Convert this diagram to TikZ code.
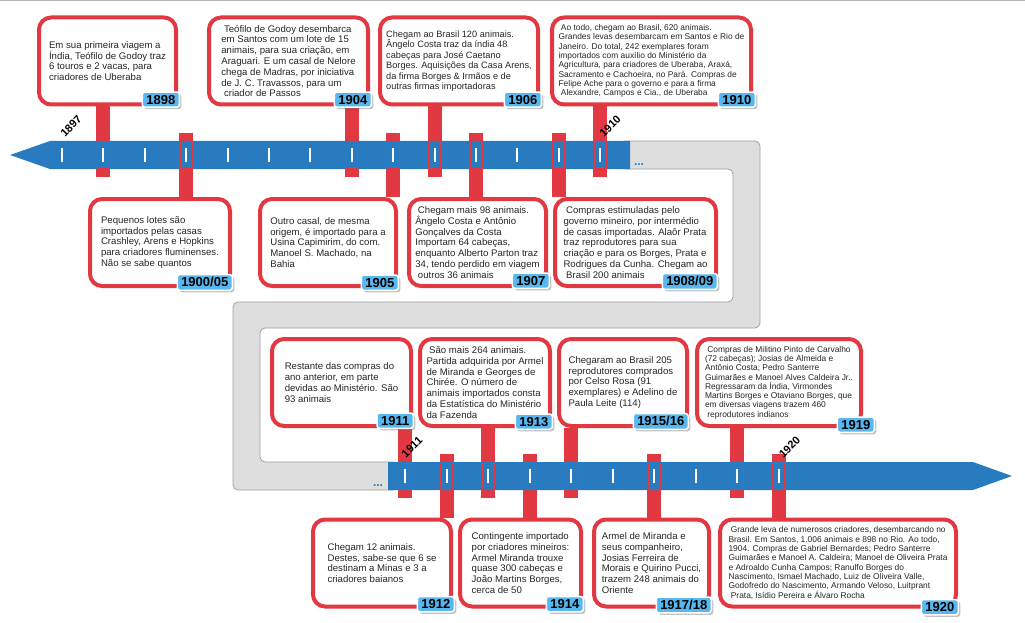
\documentclass[tikz,border=0pt]{standalone}
\usepackage{fontspec}
\setmainfont{Liberation Sans}
\usetikzlibrary{positioning,calc,shadows,backgrounds}

\definecolor{barblue}{RGB}{41,123,191}
\definecolor{evred}{RGB}{226,56,66}
\definecolor{yrblue}{RGB}{88,183,238}
\definecolor{bandgray}{RGB}{222,222,222}
\definecolor{bandline}{RGB}{160,160,160}

\begin{document}
\begin{tikzpicture}[
  x=1pt,y=-1pt,
  font=\fontsize{9.6}{10.8}\selectfont,
  event/.style={draw=evred,line width=4pt,rounded corners=12pt,fill=white,align=left,
    minimum height=87pt,inner xsep=5pt,inner ysep=2pt,text=black!85},
  dense/.style={event,font=\fontsize{8.4}{9.3}\selectfont},
  yearbox/.style={fill=yrblue,draw=white,line width=1.5pt,rounded corners=2.5pt,
    font=\fontsize{13}{13}\selectfont\bfseries,inner xsep=4pt,inner ysep=3pt,anchor=south east,
    drop shadow={shadow xshift=2pt,shadow yshift=-2pt,opacity=.4,fill=black!60}},
  yearmark/.style={rotate=45,font=\fontsize{11}{11}\selectfont\bfseries,inner sep=0pt},
  post/.style={draw=evred,line width=14pt},
  win/.style={draw=evred,line width=1pt},
  notch/.style={draw=white,line width=2pt},
  dots/.style={text=barblue,font=\fontsize{12}{12}\selectfont\bfseries,inner sep=0pt}
]
\useasboundingbox (0,0) rectangle (1025,623);
\draw[black!30,line width=1pt] (0,1) -- (1025,1);

% tick positions on the two bars
\foreach \k in {0,...,13} \coordinate (top\k) at ({62+41.4*\k},155);
\foreach \k in {0,...,9} \coordinate (low\k) at ({405+41.5*\k},476);

% 1897-1910, above the bar
\node[event,minimum width=137pt] (b1898) at (107.5,61) {Em sua primeira viagem a\\Índia, Teófilo de Godoy traz\\6 touros e 2 vacas, para\\criadores de Uberaba};
\node[event,minimum width=159pt,right=29pt of b1898] (b1904) {\ Teófilo de Godoy desembarca\\em Santos com um lote de 15\\animais, para sua criação, em\\Araguari. E um casal de Nelore\\chega de Madras, por iniciativa\\de J. C. Travassos, para um\\\ criador de Passos};
\node[event,minimum width=158pt,right=8pt of b1904,font=\fontsize{9.2}{10.5}\selectfont] (b1906) {Chegam ao Brasil 120 animais.\\Ângelo Costa traz da índia 48\\cabeças para José Caetano\\Borges. Aquisições da Casa Arens,\\da firma Borges \& Irmãos e de\\outras firmas importadoras};
\node[dense,minimum width=199pt,right=10pt of b1906] (b1910) {\ Ao todo, chegam ao Brasil, 620 animais.\\Grandes levas desembarcam em Santos e Rio de\\Janeiro. Do total, 242 exemplares foram\\importados com auxílio do Ministério da\\Agricultura, para criadores de Uberaba, Araxá,\\Sacramento e Cachoeira, no Pará. Compras de\\Felipe Ache para o governo e para a firma\\\ Alexandre, Campos e Cia., de Uberaba};

% 1897-1910, below the bar
\node[event,minimum width=140pt] (b1900) at (160,242.5) {Pequenos lotes são\\importados pelas casas\\Crashley, Arens e Hopkins\\para criadores fluminenses.\\Não se sabe quantos};
\node[event,minimum width=136pt,right=26pt of b1900] (b1905) {Outro casal, de mesma\\origem, é importado para a\\Usina Capimirim, do com.\\Manoel S. Machado, na\\Bahia};
\node[event,minimum width=137pt,right=9pt of b1905] (b1907) {\ Chegam mais 98 animais.\\Ângelo Costa e Antônio\\Gonçalves da Costa\\Importam 64 cabeças,\\enquanto Alberto Parton traz\\34, tendo perdido em viagem\\\ outros 36 animais};
\node[event,minimum width=161pt,right=5pt of b1907] (b1908) {\ Compras estimuladas pelo\\governo mineiro, por intermédio\\de casas importadas. Alaôr Prata\\traz reprodutores para sua\\criação e para os Borges, Prata e\\Rodrigues da Cunha. Chegam ao\\\ Brasil 200 animais};

% 1911-1920, above the bar
\node[event,minimum width=139pt] (b1911) at (341.5,382.5) {Restante das compras do\\ano anterior, em parte\\devidas ao Ministério. São\\93 animais};
\node[event,minimum width=130pt,right=5pt of b1911] (b1913) {\ São mais 264 animais.\\Partida adquirida por Armel\\de Miranda e Georges de\\Chirée. O número de\\animais importados consta\\da Estatística do Ministério\\da Fazenda};
\node[event,minimum width=128pt,right=5pt of b1913] (b1915) {Chegaram ao Brasil 205\\reprodutores comprados\\por Celso Rosa (91\\exemplares) e Adelino de\\Paula Leite (114)};
\node[dense,minimum width=164pt,right=6pt of b1915] (b1919) {\ Compras de Militino Pinto de Carvalho\\(72 cabeças); Josias de Almeida e\\Antônio Costa; Pedro Santerre\\Guimarães e Manoel Alves Caldeira Jr..\\Regressaram da Índia, Virmondes\\Martins Borges e Otaviano Borges, que\\em diversas viagens trazem 460\\\ reprodutores indianos};

% 1911-1920, below the bar
\node[event,minimum width=138pt] (b1912) at (382,563) {Chegam 12 animais.\\Destes, sabe-se que 6 se\\destinam a Minas e 3 a\\criadores baianos};
\node[event,minimum width=121pt,right=5pt of b1912] (b1914) {Contingente importado\\por criadores mineiros:\\Armel Miranda trouxe\\quase 300 cabeças e\\João Martins Borges,\\cerca de 50};
\node[event,minimum width=115pt,right=9pt of b1914] (b1917) {Armel de Miranda e\\seus companheiro,\\Josias Ferreira de\\Morais e Quirino Pucci,\\trazem 248 animais do\\Oriente};
\node[dense,minimum width=236pt,right=7pt of b1917] (b1920) {\ Grande leva de numerosos criadores, desembarcando no\\Brasil. Em Santos, 1.006 animais e 898 no Rio. Ao todo,\\1904. Compras de Gabriel Bernardes; Pedro Santerre\\Guimarães e Manoel A. Caldeira; Manoel de Oliveira Prata\\e Adroaldo Cunha Campos; Ranulfo Borges do\\Nascimento, Ismael Machado, Luiz de Oliveira Valle,\\Godofredo do Nascimento, Armando Veloso, Luitprant\\\ Prata, Isídio Pereira e Álvaro Rocha};

% year badges
\node[yearbox] (y1898) at ([xshift=2pt,yshift=-1.5pt]b1898.south east) {1898};
\node[yearbox] (y1904) at ([xshift=2pt,yshift=-1.5pt]b1904.south east) {1904};
\node[yearbox] (y1906) at ([xshift=2pt,yshift=-1.5pt]b1906.south east) {1906};
\node[yearbox] (y1910) at ([xshift=3pt,yshift=-1.5pt]b1910.south east) {1910};
\node[yearbox] (y1900) at ([xshift=1pt,yshift=-3pt]b1900.south east) {1900/05};
\node[yearbox] (y1905) at ([xshift=1pt,yshift=-3pt]b1905.south east) {1905};
\node[yearbox] (y1907) at ([xshift=2pt,yshift=-1pt]b1907.south east) {1907};
\node[yearbox] (y1908) at ([xshift=0pt,yshift=-2pt]b1908.south east) {1908/09};
\node[yearbox] (y1911) at ([xshift=1pt,yshift=-1pt]b1911.south east) {1911};
\node[yearbox] (y1913) at ([xshift=1pt,yshift=-2pt]b1913.south east) {1913};
\node[yearbox] (y1915) at ([xshift=0pt,yshift=-2pt]b1915.south east) {1915/16};
\node[yearbox] (y1919) at ([xshift=12pt,yshift=-5pt]b1919.south east) {1919};
\node[yearbox] (y1912) at ([xshift=2pt,yshift=-4pt]b1912.south east) {1912};
\node[yearbox] (y1914) at ([xshift=1pt,yshift=-4pt]b1914.south east) {1914};
\node[yearbox] (y1917) at ([xshift=1pt,yshift=-5pt]b1917.south east) {1917/18};
\node[yearbox] (y1920) at ([xshift=1pt,yshift=-7pt]b1920.south east) {1920};

% years written along the bars
\node[yearmark] (m1897) at ($(top0)+(9,-29)$) {1897};
\node[yearmark] (m1910) at ($(top13)+(10,-29)$) {1910};
\node[yearmark] (m1911) at ($(low0)+(7,-29)$) {1911};
\node[yearmark] (m1920) at ($(low9)+(11,-29)$) {1920};
\node[dots] (more1) at (639,165) {...};
\node[dots] (more2) at (378,486) {...};

\begin{scope}[on background layer]
  % grey band joining the two bars
  \filldraw[fill=bandgray,draw=bandline,line width=.8pt,rounded corners=5pt]
    (620,141) -- (760,141) -- (760,328) -- (260,328) -- (260,462) -- (398,462) -- (398,490)
    -- (233,490) -- (233,302) -- (733,302) -- (733,169) -- (620,169) -- cycle;
  % posts
  \foreach \k/\b in {1/b1898,7/b1904,9/b1906,13/b1910}
    \draw[post] (\b.south -| top\k) -- ($(top\k)+(0,22)$);
  \foreach \k/\b in {3/b1900,8/b1905,10/b1907,12/b1908}
    \draw[post] ($(top\k)+(0,-22)$) -- (\b.north -| top\k);
  \foreach \k/\b in {0/b1911,2/b1913,4/b1915,8/b1919}
    \draw[post] (\b.south -| low\k) -- ($(low\k)+(0,22)$);
  \foreach \k/\b in {1/b1912,3/b1914,6/b1917,9/b1920}
    \draw[post] ($(low\k)+(0,-22)$) -- (\b.north -| low\k);
  % bars
  \fill[barblue] (10,155) -- (50,141) -- (630,141) -- (630,169) -- (50,169) -- cycle;
  \fill[barblue] (388,462) -- (973,462) -- (1012,476) -- (973,490) -- (388,490) -- cycle;
  \foreach \k in {1,3,7,8,9,10,12,13}
    \draw[win] ($(top\k)+(-6,-13)$) rectangle ($(top\k)+(6,13)$);
  \foreach \k in {0,1,2,3,4,6,8,9}
    \draw[win] ($(low\k)+(-6,-13)$) rectangle ($(low\k)+(6,13)$);
  \foreach \k in {0,...,13}
    \draw[notch] ($(top\k)+(0,-7)$) -- ($(top\k)+(0,7)$);
  \foreach \k in {0,...,9}
    \draw[notch] ($(low\k)+(0,-7)$) -- ($(low\k)+(0,7)$);
\end{scope}
\end{tikzpicture}
\end{document}
